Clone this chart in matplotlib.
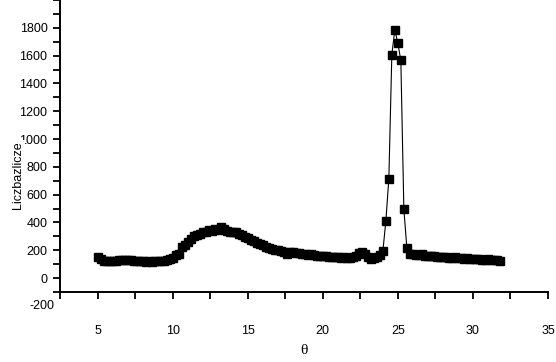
import matplotlib
matplotlib.use("Agg")
import matplotlib.pyplot as plt
from matplotlib.ticker import MultipleLocator

theta = [5.0, 5.2, 5.4, 5.6, 5.8, 6.0, 6.2, 6.4, 6.6, 6.8,
         7.0, 7.2, 7.4, 7.6, 7.8, 8.0, 8.2, 8.4, 8.6, 8.8,
         9.0, 9.2, 9.4, 9.6, 9.8, 10.0, 10.2, 10.4, 10.6, 10.8,
         11.0, 11.2, 11.4, 11.6, 11.8, 12.0, 12.2, 12.4, 12.6, 12.8,
         13.0, 13.2, 13.4, 13.6, 13.8, 14.0, 14.2, 14.4, 14.6, 14.8,
         15.0, 15.2, 15.4, 15.6, 15.8, 16.0, 16.2, 16.4, 16.6, 16.8,
         17.0, 17.2, 17.4, 17.6, 17.8, 18.0, 18.2, 18.4, 18.6, 18.8,
         19.0, 19.2, 19.4, 19.6, 19.8, 20.0, 20.2, 20.4, 20.6, 20.8,
         21.0, 21.2, 21.4, 21.6, 21.8, 22.0, 22.2, 22.4, 22.6, 22.8,
         23.0, 23.2, 23.4, 23.6, 23.8, 24.0, 24.2, 24.4, 24.6, 24.8,
         25.0, 25.2, 25.4, 25.6, 25.8, 26.0, 26.2, 26.4, 26.6, 26.8,
         27.0, 27.2, 27.4, 27.6, 27.8, 28.0, 28.2, 28.4, 28.6, 28.8,
         29.0, 29.2, 29.4, 29.6, 29.8, 30.0, 30.2, 30.4, 30.6, 30.8,
         31.0, 31.2, 31.4, 31.6, 31.8]

counts = [155, 135, 125, 122, 120, 122, 125, 128, 130, 132,
          130, 128, 125, 122, 120, 120, 118, 120, 118, 120,
          122, 125, 125, 130, 135, 145, 165, 175, 225, 240,
          260, 280, 300, 310, 320, 330, 335, 345, 340, 355,
          345, 365, 350, 340, 335, 330, 330, 320, 310, 295,
          285, 275, 265, 255, 245, 235, 225, 218, 210, 205,
          200, 195, 190, 175, 190, 185, 180, 178, 175, 170,
          168, 170, 165, 162, 160, 160, 158, 155, 155, 152,
          150, 148, 150, 145, 148, 152, 158, 180, 185, 170,
          150, 140, 145, 150, 165, 192, 408, 713, 1608, 1786,
          1689, 1565, 497, 216, 175, 170, 168, 165, 170, 162,
          160, 158, 160, 155, 152, 150, 155, 148, 145, 150,
          142, 145, 140, 142, 138, 140, 135, 138, 130, 128,
          135, 132, 130, 128, 125]

y_ticks = [0, 200, 400, 600, 800, 1000, 1200, 1400, 1600, 1800]
x_ticks = [5, 10, 15, 20, 25, 30, 35]
extra_ylabel = -200

plt.rcParams['font.family'] = ['Liberation Sans', 'DejaVu Sans']

fig = plt.figure(figsize=(5.56, 3.62), dpi=100)
ax = fig.add_axes([60/556, 70/362, 488/556, 292/362])

ax.plot(theta, counts, color='black', lw=0.8, marker='s', ms=5.2,
        mec='black', mfc='black', clip_on=False)

ax.set_xlim(2.5, 35)
ax.set_ylim(-100, 2000)
ax.set_xticks(x_ticks)
ax.set_yticks(y_ticks)
ax.xaxis.set_minor_locator(MultipleLocator(2.5))
ax.yaxis.set_minor_locator(MultipleLocator(100))

for s in ['top', 'right']:
    ax.spines[s].set_visible(False)
for s in ['left', 'bottom']:
    ax.spines[s].set_linewidth(1.4)

ax.tick_params(axis='both', which='both', direction='out', width=1.3,
               length=5, labelsize=9)
ax.tick_params(axis='x', which='major', pad=19)
ax.tick_params(axis='y', which='major', pad=4)

ax.text(-0.012, extra_ylabel, str(extra_ylabel), transform=ax.get_yaxis_transform(),
        ha='right', va='center', fontsize=9, clip_on=False)

fig.text(304/556, 1 - 350/362, 'θ', ha='center', va='center', fontsize=11,
         family=['Liberation Serif', 'DejaVu Serif'])
fig.text(18/556, 1 - 175/362, 'Liczbazlicze', rotation=90, ha='center', va='center',
         fontsize=9, bbox=dict(facecolor='white', edgecolor='none', pad=0.5))

fig.savefig('out.png', dpi=100)
